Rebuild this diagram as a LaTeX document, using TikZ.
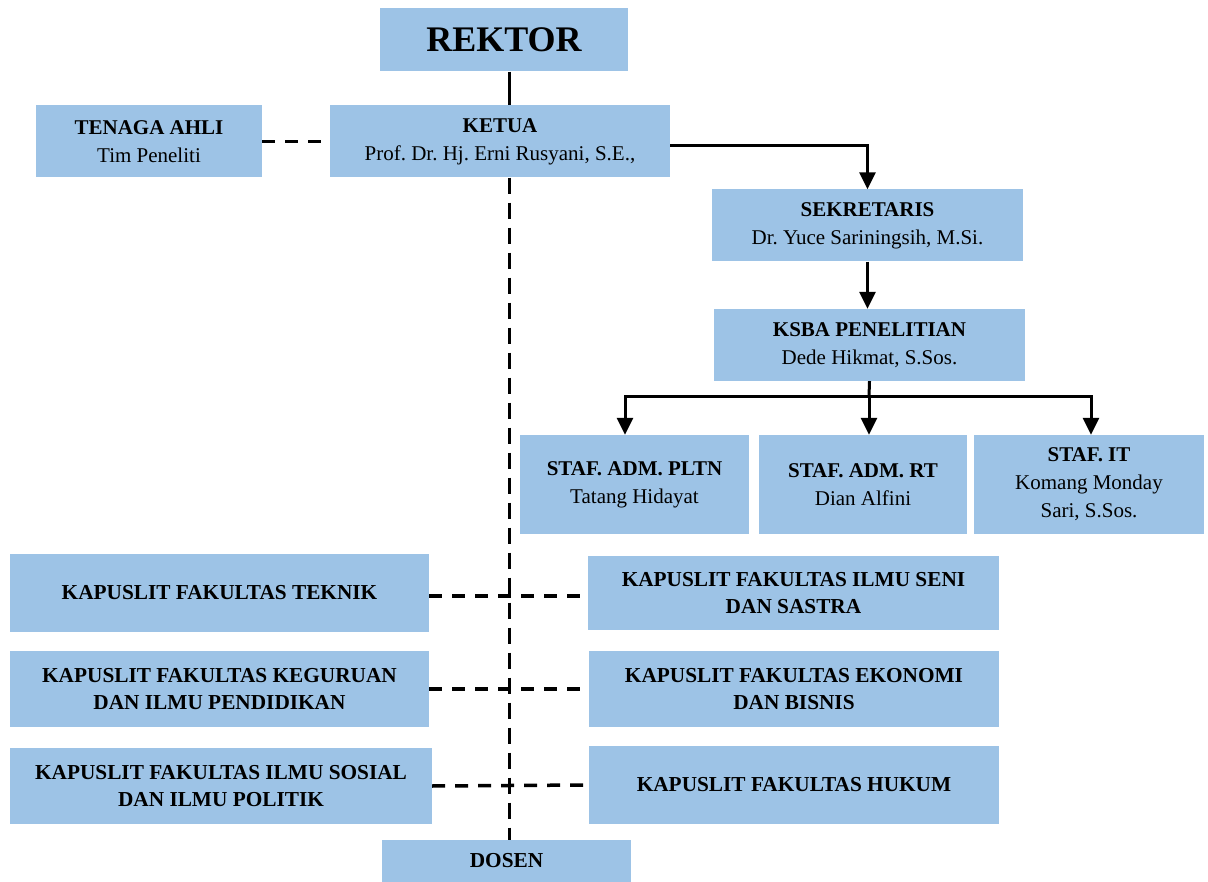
\documentclass[tikz,border=0pt]{standalone}
\usepackage{fontspec}
\setmainfont{Liberation Serif}
\usetikzlibrary{arrows.meta}
\definecolor{BoxBlue}{HTML}{9DC3E6}
\frenchspacing
\tikzset{
  BaseNode/.style = {align=center, inner sep=0pt, text centered, rectangle, fill=BoxBlue, font=\fontsize{21}{28}\selectfont},
  TopNode/.style = {BaseNode, minimum width=248pt, minimum height=63pt, font=\fontsize{36}{40}\selectfont\bfseries},
  PersonNode/.style = {BaseNode, minimum height=72pt},
  StaffNode/.style = {BaseNode, minimum height=99pt},
  FacultyNode/.style = {BaseNode, minimum height=76pt, font=\fontsize{21.3}{27}\selectfont\bfseries},
  SolidLine/.style = {line width=3pt},
  ArrowLine/.style = {line width=3pt, -{Triangle[width=16pt,length=17pt]}},
  DashLine/.style = {line width=3.5pt, dash pattern=on 13pt off 10pt},
  SpineLine/.style = {line width=3pt, dash pattern=on 16pt off 9pt},
}
\begin{document}
\begin{tikzpicture}[x=1pt,y=-1pt]
    \useasboundingbox (0,0) rectangle (1208,882);
    \node [TopNode] (rektor) at (504,40) {REKTOR};
    \node [PersonNode, minimum width=340pt] (ketua) at (500,141.5) {\textbf{KETUA}\\Prof. Dr. Hj. Erni Rusyani, S.E.,};
    \node [PersonNode, minimum width=226pt] (tenaga) at (149,141.5) {\textbf{TENAGA AHLI}\\Tim Peneliti};
    \node [PersonNode, minimum width=311pt] (sekretaris) at (867.5,225.5) {\textbf{SEKRETARIS}\\Dr. Yuce Sariningsih, M.Si.};
    \node [PersonNode, minimum width=311pt] (ksba) at (869.5,345) {\textbf{KSBA PENELITIAN}\\Dede Hikmat, S.Sos.};
    \node [StaffNode, minimum width=229pt] (pltn) at (634.5,484.5) {\textbf{STAF. ADM. PLTN}\\Tatang Hidayat};
    \node [StaffNode, minimum width=208pt] (rt) at (863,484.5) {\textbf{STAF. ADM. RT}\\Dian Alfini};
    \node [StaffNode, minimum width=230pt] (it) at (1089,484.5) {\textbf{STAF. IT}\\Komang Monday\\Sari, S.Sos.};
    \node [FacultyNode, minimum width=419pt, minimum height=78pt] (teknik) at (219.5,593) {KAPUSLIT FAKULTAS TEKNIK};
    \node [FacultyNode, minimum width=419pt] (keguruan) at (219.5,689) {KAPUSLIT FAKULTAS KEGURUAN\\DAN ILMU PENDIDIKAN};
    \node [FacultyNode, minimum width=422pt] (sosial) at (221,786) {KAPUSLIT FAKULTAS ILMU SOSIAL\\DAN ILMU POLITIK};
    \node [FacultyNode, minimum width=411pt, minimum height=74pt] (seni) at (793.5,593) {KAPUSLIT FAKULTAS ILMU SENI\\DAN SASTRA};
    \node [FacultyNode, minimum width=410pt] (ekonomi) at (794,689) {KAPUSLIT FAKULTAS EKONOMI\\DAN BISNIS};
    \node [FacultyNode, minimum width=410pt, minimum height=78pt] (hukum) at (794,785) {KAPUSLIT FAKULTAS HUKUM};
    \node [FacultyNode, minimum width=249pt, minimum height=42pt] (dosen) at (506.5,861) {DOSEN};
    \coordinate (spine) at (509,0);
    \coordinate (branch) at (869,397);
    \coordinate (branchleft) at (625,397);
    \coordinate (branchright) at (1091,397);
    \draw [SolidLine] (rektor.south -| spine) -- (ketua.north -| spine);
    \draw [ArrowLine] ([yshift=-4.5pt]ketua.east) -| (sekretaris.north);
    \draw [ArrowLine] (sekretaris.south) -- (ksba.north -| sekretaris.south);
    \draw [SolidLine] (ksba.south) -- (branch);
    \draw [SolidLine, line cap=rect] (branchleft) -- (branchright);
    \draw [ArrowLine] (branchleft) -- (branchleft |- pltn.north);
    \draw [ArrowLine] (branch) -- (branch |- rt.north);
    \draw [ArrowLine] (branchright) -- (branchright |- it.north);
    \draw [DashLine] (tenaga.east) -- (ketua.west);
    \draw [SpineLine] (ketua.south -| spine) -- (dosen.north -| spine);
    \draw [DashLine] ([yshift=-3pt]teknik.east) -- ([yshift=-3pt]seni.west);
    \draw [DashLine] (keguruan.east) -- (ekonomi.west);
    \draw [DashLine] (sosial.east) -- (hukum.west);
\end{tikzpicture}
\end{document}
